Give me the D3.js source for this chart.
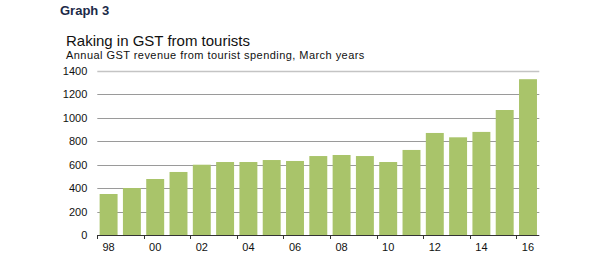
<!DOCTYPE html>
<html><head><meta charset="utf-8">
<script src="https://cdn.jsdelivr.net/npm/d3@7"></script>
<style>body{margin:0;background:#fff}svg{display:block}</style>
</head><body>
<script>
const categories = ["98","99","00","01","02","03","04","05","06","07","08","09","10","11","12","13","14","15","16"];
const values = [350,401,478,538,600,623,623,640,632,674,683,674,623,726,871,834,880,1067,1330];
const yTicks = [0,200,400,600,800,1000,1200,1400];
const xLabels = ["98","00","02","04","06","08","10","12","14","16"];

const W=600,H=258;
const m={left:97.3,right:539.3,top:71,bottom:235};
const svg=d3.select("body").append("svg").attr("width",W).attr("height",H);

const x=d3.scaleBand().domain(categories).range([m.left,m.right]).paddingInner(0.23).paddingOuter(0.1);
const y=d3.scaleLinear().domain([0,1400]).range([m.bottom,m.top]);

svg.append("text").attr("x",60).attr("y",15).text("Graph 3")
  .attr("font-family","'Liberation Sans Narrow','Arial Narrow','Liberation Sans',sans-serif")
  .attr("font-weight","bold").attr("font-size",13).attr("fill","#1c2a48");
svg.append("text").attr("x",66).attr("y",45.5).text("Raking in GST from tourists")
  .attr("font-family","'Liberation Sans',Arial,sans-serif").attr("font-size",15).attr("fill","#111");
svg.append("text").attr("x",66).attr("y",58.5).text("Annual GST revenue from tourist spending, March years")
  .attr("font-family","'Liberation Sans',Arial,sans-serif").attr("font-size",11).attr("letter-spacing",0.45).attr("fill","#111");

// gridlines
const g=svg.append("g");
g.selectAll("line").data(yTicks.filter(d=>d>0)).join("line")
  .attr("x1",m.left).attr("x2",m.right)
  .attr("y1",d=>Math.round(y(d))+0.5).attr("y2",d=>Math.round(y(d))+0.5)
  .attr("stroke",d=>d===1400?"#c4c4c4":"#9a9a9a").attr("stroke-width",d=>d===1400?1.5:1);

// bars
svg.append("g").selectAll("rect").data(values).join("rect")
  .attr("x",(d,i)=>x(categories[i])).attr("width",x.bandwidth())
  .attr("y",d=>y(d)).attr("height",d=>y(0)-y(d)).attr("fill","#a9c46a");

// y axis labels
const ya=svg.append("g").attr("transform",`translate(${m.left},0)`)
  .call(d3.axisLeft(y).tickValues(yTicks).tickSize(0).tickPadding(10).tickFormat(d3.format("d")));
ya.select(".domain").remove();
ya.selectAll("text").attr("font-family","'Liberation Sans',Arial,sans-serif").attr("font-size",11).attr("fill","#111");

// x axis
const xa=svg.append("g").attr("transform",`translate(0,${m.bottom})`);
xa.append("line").attr("x1",m.left).attr("x2",m.right).attr("y1",0.5).attr("y2",0.5).attr("stroke","#333").attr("stroke-width",1.2);
const tickCats=categories.filter((c,i)=>i%2===0);
xa.selectAll("line.t").data(tickCats).join("line").attr("class","t")
  .attr("x1",d=>Math.round(x(d)-x.step()*x.paddingInner()/2)+0.5)
  .attr("x2",d=>Math.round(x(d)-x.step()*x.paddingInner()/2)+0.5)
  .attr("y1",0).attr("y2",4).attr("stroke","#333");
xa.selectAll("text").data(xLabels).join("text")
  .attr("x",d=>x(d)+x.bandwidth()/2).attr("y",16).attr("text-anchor","middle")
  .text(d=>d).attr("font-family","'Liberation Sans',Arial,sans-serif").attr("font-size",11).attr("fill","#111");
</script>
</body></html>
